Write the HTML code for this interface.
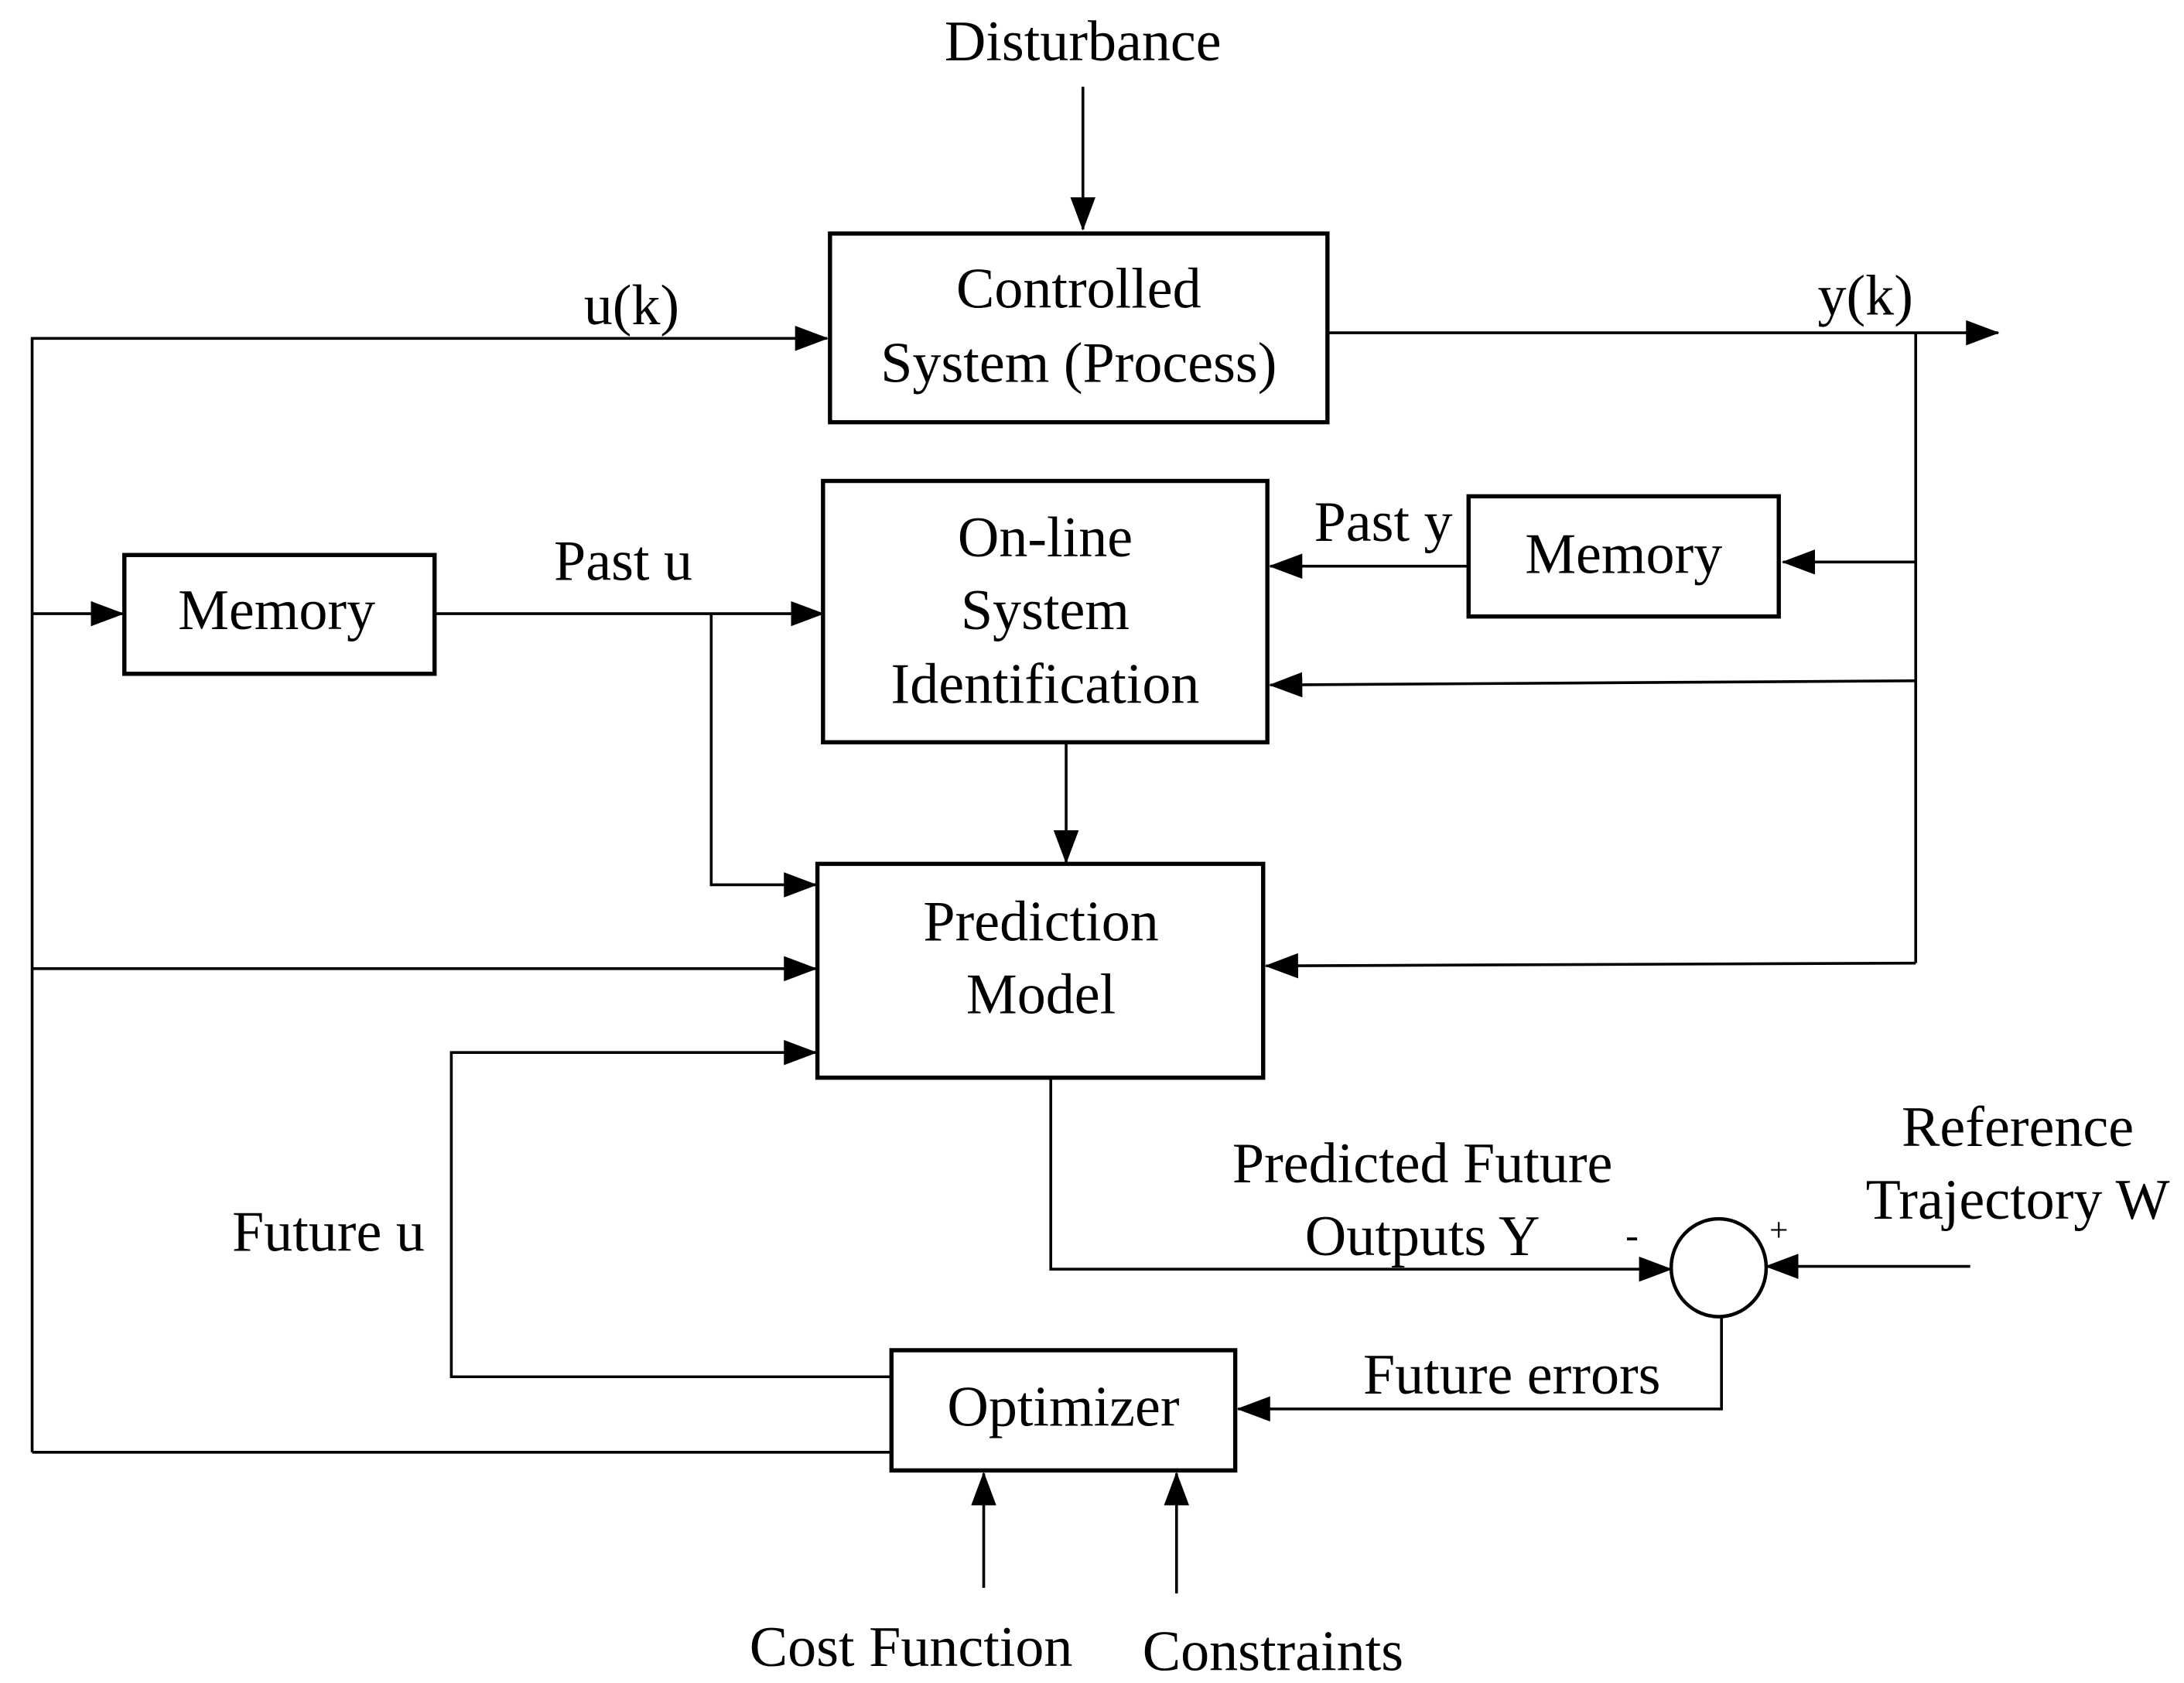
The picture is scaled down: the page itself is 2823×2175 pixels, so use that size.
<!DOCTYPE html>
<html><head><style>html,body{margin:0;padding:0;background:#fff}svg{display:block}</style></head>
<body>
<svg width="2823" height="2175" viewBox="0 0 1563 1204" xmlns="http://www.w3.org/2000/svg">
<defs>
<marker id="a" markerWidth="24" markerHeight="18" refX="23" refY="9" orient="auto" markerUnits="userSpaceOnUse">
<path d="M0,0 L24,9 L0,18 Z" fill="#000"/></marker>
</defs>
<g font-family="Liberation Serif, serif" font-size="41" text-anchor="middle" fill="#000">
<text x="775" y="43">Disturbance</text>
<text x="772" y="220">Controlled</text>
<text x="772" y="273">System (Process)</text>
<text x="452" y="232">u(k)</text>
<text x="1335" y="225">y(k)</text>
<text x="198" y="450">Memory</text>
<text x="446" y="415">Past u</text>
<text x="748" y="398">On-line</text>
<text x="748" y="450">System</text>
<text x="748" y="503">Identification</text>
<text x="1162" y="410">Memory</text>
<text x="990" y="387">Past y</text>
<text x="745" y="673">Prediction</text>
<text x="745" y="725">Model</text>
<text x="235" y="895">Future u</text>
<text x="1018" y="846">Predicted Future</text>
<text x="1018" y="898">Outputs Y</text>
<text x="1168" y="893" font-size="28">-</text>
<text x="1273" y="888" font-size="24">+</text>
<text x="1444" y="820">Reference</text>
<text x="1444" y="872">Trajectory W</text>
<text x="1082" y="997">Future errors</text>
<text x="761" y="1020">Optimizer</text>
<text x="652" y="1192">Cost Function</text>
<text x="911" y="1195">Constraints</text>
</g>
<g fill="none" stroke="#000" stroke-width="3">
<rect x="594" y="167" width="356" height="135"/>
<rect x="89" y="397" width="222" height="85"/>
<rect x="589" y="344" width="318" height="187"/>
<rect x="1051" y="355" width="222" height="86"/>
<rect x="585" y="618" width="319" height="153"/>
<rect x="638" y="966" width="246" height="86"/>
<ellipse cx="1230" cy="907" rx="34" ry="35" stroke-width="2.5"/>
</g>
<g fill="none" stroke="#000" stroke-width="2">
<line x1="775" y1="62" x2="775" y2="164" marker-end="url(#a)"/>
<polyline points="23,1039 23,242 592,242" marker-end="url(#a)"/>
<line x1="950" y1="238" x2="1430" y2="238" marker-end="url(#a)"/>
<line x1="1371" y1="238" x2="1371" y2="689"/>
<line x1="23" y1="439" x2="88" y2="439" marker-end="url(#a)"/>
<line x1="311" y1="439" x2="589" y2="439" marker-end="url(#a)"/>
<polyline points="509,439 509,633 584,633" marker-end="url(#a)"/>
<line x1="1371" y1="402" x2="1276" y2="402" marker-end="url(#a)"/>
<line x1="1051" y1="405" x2="909" y2="405" marker-end="url(#a)"/>
<line x1="1371" y1="487" x2="909" y2="490" marker-end="url(#a)"/>
<line x1="763" y1="531" x2="763" y2="617" marker-end="url(#a)"/>
<line x1="23" y1="693" x2="584" y2="693" marker-end="url(#a)"/>
<line x1="1371" y1="689" x2="906" y2="691" marker-end="url(#a)"/>
<polyline points="637,985 323,985 323,753 584,753" marker-end="url(#a)"/>
<polyline points="752,771 752,908 1196,908" marker-end="url(#a)"/>
<line x1="1410" y1="906" x2="1264" y2="906" marker-end="url(#a)"/>
<polyline points="1232,942 1232,1008 886,1008" marker-end="url(#a)"/>
<line x1="23" y1="1039" x2="638" y2="1039"/>
<line x1="704" y1="1136" x2="704" y2="1054" marker-end="url(#a)"/>
<line x1="842" y1="1140" x2="842" y2="1054" marker-end="url(#a)"/>
</g>
</svg>
</body></html>
